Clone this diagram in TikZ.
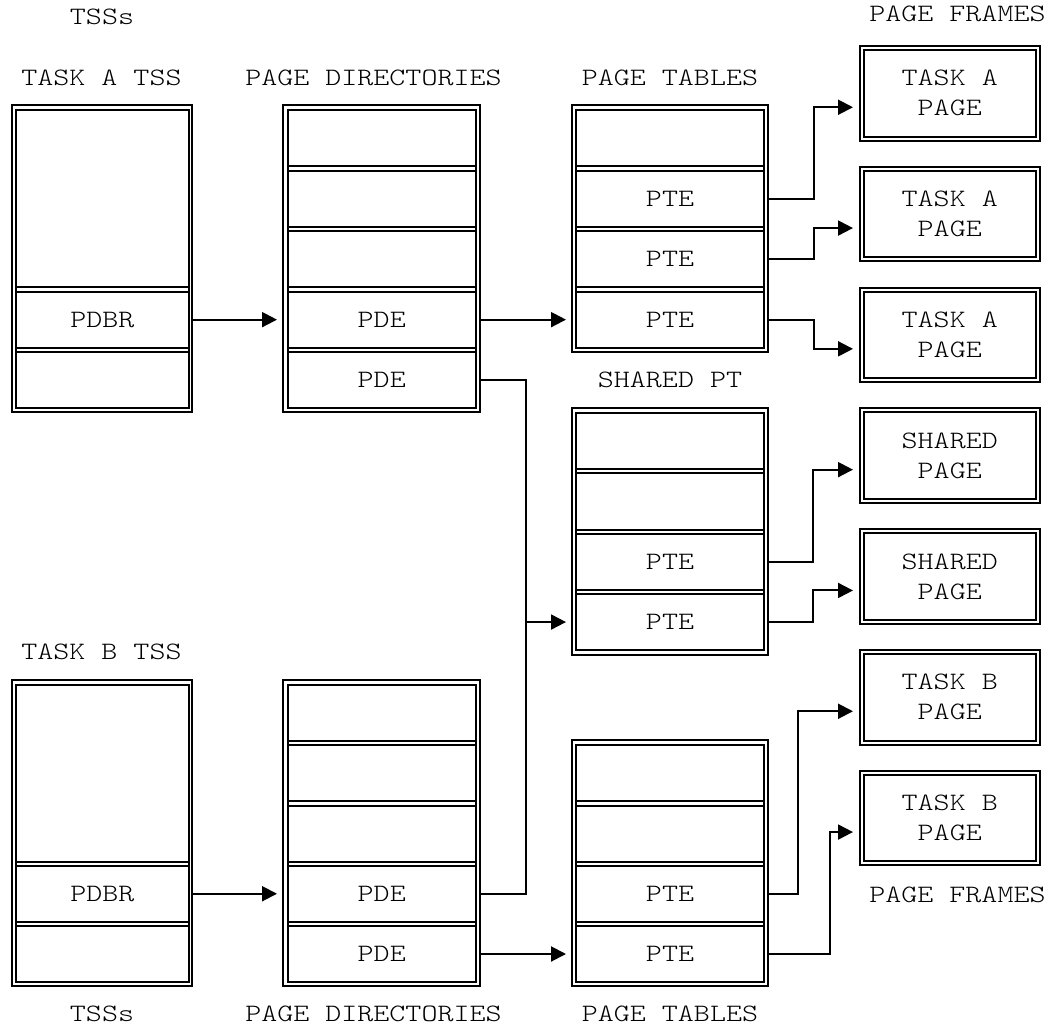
\documentclass[tikz,border=0pt]{standalone}
\usepackage{fontspec}
\newfontfamily\mono{lmmonolt10-regular}[Extension=.otf, FakeStretch=1.22]
\usetikzlibrary{arrows.meta}
\begin{document}
\begin{tikzpicture}[x=1pt,y=-1pt,
  ln/.style={line width=2pt},
  cell/.style={draw, line width=2pt, inner sep=0pt, outer sep=0pt, rectangle, font=\mono\fontsize{25}{30}\selectfont},
  tsscell/.style={cell, minimum width=172.7pt},
  pdcell/.style={cell, minimum width=188.5pt},
  ptcell/.style={cell, minimum width=188pt},
  rowA/.style={minimum height=56.3pt},
  rowB/.style={minimum height=56pt},
  frame/.style={draw, double, double distance=2pt, line width=2pt, inner sep=0pt, outer sep=0pt,
    minimum width=175.5pt, minimum height=90.5pt, align=center, font=\mono\fontsize{25}{30}\selectfont},
  lbl/.style={anchor=base, inner sep=0pt, font=\mono\fontsize{25}{30}\selectfont},
  arr/.style={line width=2pt, -{Triangle[length=15pt,width=15pt]}},
]
\fill[white] (0,0) rectangle (1050,1025);
\useasboundingbox (0,0) rectangle (1050,1025);

% ---------- labels ----------
\node[lbl] (lTSSa) at (102,25) {TSSs};
\node[lbl] (lTA) at (101.5,85) {TASK A TSS};
\node[lbl] (lPDa) at (373.5,85) {PAGE DIRECTORIES};
\node[lbl] (lPTa) at (670,85) {PAGE TABLES};
\node[lbl] (lPFa) at (957.5,22) {PAGE FRAMES};
\node[lbl] (lSPT) at (670,387) {SHARED PT};
\node[lbl] (lTB) at (101.5,659) {TASK B TSS};
\node[lbl] (lPFb) at (957.5,902) {PAGE FRAMES};
\node[lbl] (lTSSb) at (102,1021) {TSSs};
\node[lbl] (lPDb) at (373.5,1021) {PAGE DIRECTORIES};
\node[lbl] (lPTb) at (670,1021) {PAGE TABLES};

% ---------- outer frames of the stacks ----------
\draw[ln] (12,105) rectangle (192,412);      \draw[ln] (16,110) rectangle (188.7,408.3);
\draw[ln] (283,105) rectangle (480,412);     \draw[ln] (287.5,110) rectangle (476,408.3);
\draw[ln] (572,105) rectangle (768,352);     \draw[ln] (576,110) rectangle (764,347.8);
\draw[ln] (572,408) rectangle (768,654.5);   \draw[ln] (576,413) rectangle (764,650.2);
\draw[ln] (12,680) rectangle (192,986);      \draw[ln] (16,685) rectangle (188.7,982);
\draw[ln] (283,680) rectangle (480,986);     \draw[ln] (287.5,685) rectangle (476,982);
\draw[ln] (572,740.25) rectangle (768,986);  \draw[ln] (576,745.25) rectangle (764,982);

% ---------- Task A TSS ----------
\node[tsscell, minimum height=177.3pt] (tA1) at (102.35,198.65) {};
\node[tsscell, rowA] (tA4) at (102.35,319.65) {PDBR};
\node[tsscell, rowA] (tA5) at (102.35,380.15) {};

% ---------- Task A page directory ----------
\node[pdcell, rowA] (pdA1) at (381.75,138.15) {};
\node[pdcell, rowA] (pdA2) at (381.75,198.65) {};
\node[pdcell, rowA] (pdA3) at (381.75,259.15) {};
\node[pdcell, rowA] (pdA4) at (381.75,319.65) {PDE};
\node[pdcell, rowA] (pdA5) at (381.75,380.15) {PDE};

% ---------- Task A page table ----------
\node[ptcell, rowA] (ptA1) at (670,138.15) {};
\node[ptcell, rowA] (ptA2) at (670,198.65) {PTE};
\node[ptcell, rowA] (ptA3) at (670,259.15) {PTE};
\node[ptcell, rowA] (ptA4) at (670,319.65) {PTE};

% ---------- shared page table ----------
\node[ptcell, rowA] (spA1) at (670,441.15) {};
\node[ptcell, rowA] (spA2) at (670,501.45) {};
\node[ptcell, rowA] (spA3) at (670,561.75) {PTE};
\node[ptcell, rowA] (spA4) at (670,622.05) {PTE};

% ---------- Task B TSS ----------
\node[tsscell, minimum height=176.5pt] (tB1) at (102.35,773.25) {};
\node[tsscell, rowB] (tB4) at (102.35,893.75) {PDBR};
\node[tsscell, rowB] (tB5) at (102.35,954) {};

% ---------- Task B page directory ----------
\node[pdcell, rowB] (pdB1) at (381.75,713) {};
\node[pdcell, rowB] (pdB2) at (381.75,773.25) {};
\node[pdcell, rowB] (pdB3) at (381.75,833.5) {};
\node[pdcell, rowB] (pdB4) at (381.75,893.75) {PDE};
\node[pdcell, rowB] (pdB5) at (381.75,954) {PDE};

% ---------- Task B page table ----------
\node[ptcell, rowB] (ptB1) at (670,773.25) {};
\node[ptcell, rowB] (ptB2) at (670,833.5) {};
\node[ptcell, rowB] (ptB3) at (670,893.75) {PTE};
\node[ptcell, rowB] (ptB4) at (670,954) {PTE};

% ---------- page frames ----------
\node[frame] (pfA1) at (949.75,93.25) {TASK A\\PAGE};
\node[frame] (pfA2) at (949.75,214.05) {TASK A\\PAGE};
\node[frame] (pfA3) at (949.75,334.85) {TASK A\\PAGE};
\node[frame] (pfS1) at (949.75,455.65) {SHARED\\PAGE};
\node[frame] (pfS2) at (949.75,576.45) {SHARED\\PAGE};
\node[frame] (pfB1) at (949.75,697.25) {TASK B\\PAGE};
\node[frame] (pfB2) at (949.75,818.05) {TASK B\\PAGE};

% ---------- connectors ----------
\draw[arr, shorten <=3.5pt, shorten >=10.5pt] (tA4.east) -- (pdA4.west);
\draw[arr, shorten <=4pt, shorten >=10pt] (pdA4.east) -- (ptA4.west);
\draw[arr, shorten <=3.5pt, shorten >=10.5pt] (tB4.east) -- (pdB4.west);
\draw[arr, shorten <=4pt, shorten >=10pt] (pdB5.east) -- (ptB4.west);

\coordinate (jn) at ([xshift=-50pt]spA4.west);
\draw[ln, shorten <=4pt] (pdA5.east) -| (jn);
\draw[ln, shorten <=4pt] (pdB4.east) -| (jn);
\draw[arr, shorten >=10pt] (jn) -- (spA4.west);

\draw[arr, shorten <=4pt, shorten >=9pt] (ptA2.east) -- ++(50,0) |- ([yshift=-14pt]pfA1.west);
\draw[arr, shorten <=4pt, shorten >=9pt] (ptA3.east) -- ++(50,0) |- ([yshift=-14pt]pfA2.west);
\draw[arr, shorten <=4pt, shorten >=9pt] (ptA4.east) -- ++(50,0) |- ([yshift=-14pt]pfA3.west);
\draw[arr, shorten <=4pt, shorten >=9pt] (spA3.east) -- ++(49,0) |- ([yshift=-14pt]pfS1.west);
\draw[arr, shorten <=4pt, shorten >=9pt] (spA4.east) -- ++(49,0) |- ([yshift=-14pt]pfS2.west);
\draw[arr, shorten <=4pt, shorten >=9pt] (ptB3.east) -- ++(34,0) |- ([yshift=-14pt]pfB1.west);
\draw[arr, shorten <=4pt, shorten >=9pt] (ptB4.east) -- ++(66,0) |- ([yshift=-14pt]pfB2.west);
\end{tikzpicture}
\end{document}
